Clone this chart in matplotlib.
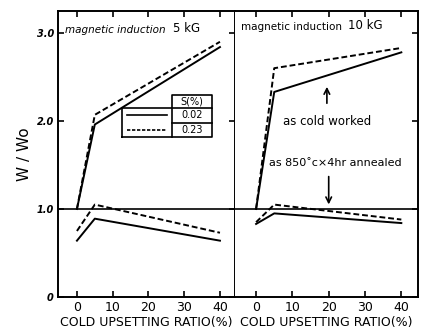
import numpy as np
import matplotlib
matplotlib.use("Agg")
import matplotlib.pyplot as plt

# Data (cold upsetting ratio %, W/Wo)
ratio = [0, 5, 40]

# magnetic induction 5 kG
cold_5_s002 = [1.0, 1.96, 2.84]
cold_5_s023 = [1.0, 2.07, 2.90]
ann_5_s002 = [0.64, 0.89, 0.64]
ann_5_s023 = [0.75, 1.05, 0.73]

# magnetic induction 10 kG
cold_10_s002 = [1.0, 2.33, 2.78]
cold_10_s023 = [1.0, 2.60, 2.83]
ann_10_s002 = [0.83, 0.95, 0.84]
ann_10_s023 = [0.85, 1.05, 0.88]

xticks = [0, 10, 20, 30, 40]
yticks = [0, 1.0, 2.0, 3.0]
ytick_labels = ["0", "1.0", "2.0", "3.0"]
s_labels = ["0.02", "0.23"]

plt.rcParams['font.family'] = ['DejaVu Sans']
fig = plt.figure(figsize=(4.27, 3.29), dpi=100)
ax1 = fig.add_axes([0.1358, 0.0973, 0.4145, 0.8693])
ax2 = fig.add_axes([0.5504, 0.0973, 0.4286, 0.8693])

lw = 1.4
for ax, xl in [(ax1, (-5.3, 44.2)), (ax2, (-5.8, 44.6))]:
    ax.set_xlim(*xl)
    ax.set_ylim(0, 3.25)
    ax.axhline(1.0, color='black', lw=1.2)
    ax.set_xticks(xticks)
    ax.set_xticklabels([str(t) for t in xticks], fontsize=9)
    ax.set_yticks(yticks)
    ax.tick_params(direction='in', length=4, width=1.2, top=True, right=True,
                   pad=3)
    for sp in ax.spines.values():
        sp.set_linewidth(1.4)
    ax.set_xlabel("COLD UPSETTING RATIO(%)", fontsize=9, labelpad=1)

ax1.set_yticklabels(ytick_labels, fontsize=7, fontweight='bold', style='italic')
ax1.set_ylabel("W / Wo", fontsize=11, labelpad=3)
ax2.tick_params(left=False, labelleft=False)
ax2.spines['left'].set_visible(False)

# left panel
ax1.plot(ratio, cold_5_s002, 'k-', lw=lw)
ax1.plot(ratio, cold_5_s023, 'k--', lw=lw, dashes=(3, 1.5))
ax1.plot(ratio, ann_5_s002, 'k-', lw=lw)
ax1.plot(ratio, ann_5_s023, 'k--', lw=lw, dashes=(3, 1.5))
ax1.text(0.04, 0.935, "magnetic induction", transform=ax1.transAxes,
         fontsize=7.5, style='italic', va='center')
ax1.text(0.65, 0.94, "5 kG", transform=ax1.transAxes, fontsize=8.5, va='center')

# legend table
tb = dict(transform=ax1.transAxes, color='black', lw=1.2, clip_on=False)
x0, x1, x2 = 0.36, 0.645, 0.87
y0, y1, y2, y3 = 0.56, 0.61, 0.66, 0.705
ax1.plot([x0, x2, x2, x0, x0], [y0, y0, y2, y2, y0], **tb)
ax1.plot([x1, x1, x2, x2], [y0, y3, y3, y2], **tb)
ax1.plot([x1, x2], [y1, y1], **tb)
ax1.plot([x0 + 0.03, x1 - 0.03], [(y1 + y2) / 2] * 2, 'k-', lw=1.2,
         transform=ax1.transAxes)
ax1.plot([x0 + 0.03, x1 - 0.03], [(y0 + y1) / 2] * 2, 'k--', lw=1.2,
         dashes=(2, 1), transform=ax1.transAxes)
ax1.text((x1 + x2) / 2, (y2 + y3) / 2, "S(%)", transform=ax1.transAxes,
         fontsize=7, ha='center', va='center')
ax1.text((x1 + x2) / 2, (y1 + y2) / 2, s_labels[0], transform=ax1.transAxes,
         fontsize=7, ha='center', va='center')
ax1.text((x1 + x2) / 2, (y0 + y1) / 2, s_labels[1], transform=ax1.transAxes,
         fontsize=7, ha='center', va='center')

# right panel
ax2.plot(ratio, cold_10_s002, 'k-', lw=lw)
ax2.plot(ratio, cold_10_s023, 'k--', lw=lw, dashes=(3, 1.5))
ax2.plot(ratio, ann_10_s002, 'k-', lw=lw)
ax2.plot(ratio, ann_10_s023, 'k--', lw=lw, dashes=(3, 1.5))
ax2.text(0.03, 0.945, "magnetic induction", transform=ax2.transAxes,
         fontsize=7.5, va='center')
ax2.text(0.62, 0.95, "10 kG", transform=ax2.transAxes, fontsize=8.5, va='center')

ax2.annotate("", xy=(19.5, 2.42), xytext=(19.5, 2.17),
             arrowprops=dict(arrowstyle='->', color='black', lw=1.2))
ax2.text(19.5, 1.99, "as cold worked", fontsize=8.5, ha='center', va='center')
ax2.text(21.8, 1.52, "as 850\u02dac\u00d74hr annealed", fontsize=8,
         ha='center', va='center')
ax2.annotate("", xy=(20, 1.02), xytext=(20, 1.40),
             arrowprops=dict(arrowstyle='->', color='black', lw=1.2))

fig.savefig("out.png", dpi=100)
